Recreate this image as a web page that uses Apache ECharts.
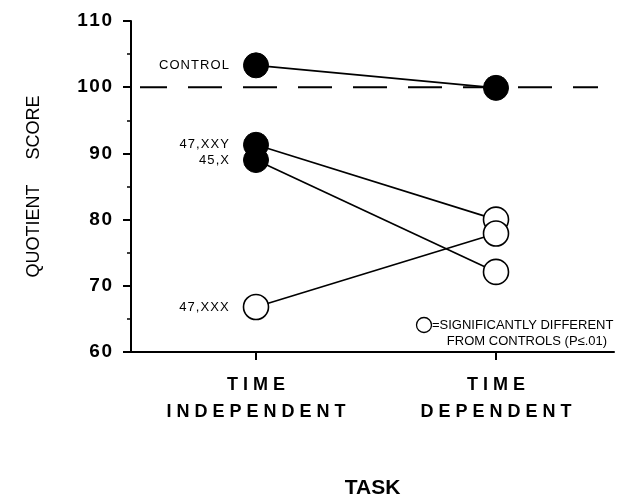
<!DOCTYPE html>
<html><head><meta charset="utf-8">
<script src="https://cdn.jsdelivr.net/npm/echarts@6/dist/echarts.min.js"></script>
<style>html,body{margin:0;padding:0;background:#fff}#c{width:633px;height:504px}</style>
</head><body><div id="c"></div>
<script>
// ---- data ----
const taskLabels = ['TIME\nINDEPENDENT', 'TIME\nDEPENDENT'];
const taskPositions = [1, 2];
const groups = ['CONTROL', '47,XXY', '45,X', '47,XXX'];
const timeIndependent = [103.3, 91.3, 89.0, 66.8];
const timeDependent = [99.9, 80.0, 72.1, 77.9];
const significantIndependent = [false, false, false, true];
const significantDependent = [false, true, true, true];
const referenceValue = 100;
const yMin = 60, yMax = 110, yStep = 10;
const xTitle = 'TASK';
const yTitle = 'QUOTIENT     SCORE';
const noteLines = ['=SIGNIFICANTLY DIFFERENT', 'FROM CONTROLS (P\u2264.01)'];

// ---- helpers ----
const FONT = '"Liberation Sans", Arial, Helvetica, sans-serif';
function spaced(s, sep) { return s.split('\n').map(l => l.split('').join(sep)).join('\n'); }
function markerStyle(sig) {
  return sig ? { color: '#fff', borderColor: '#000', borderWidth: 1.6 }
             : { color: '#000', borderColor: '#000', borderWidth: 1 };
}

const xMin = 1 - 125 / 240, xMax = 2 + 118 / 240;

const series = groups.map((g, i) => ({
  type: 'line',
  name: g,
  symbol: 'circle',
  symbolSize: 25,
  z: 3,
  lineStyle: { color: '#000', width: 1.7 },
  data: [
    { value: [taskPositions[0], timeIndependent[i]], itemStyle: markerStyle(significantIndependent[i]),
      label: { show: true, position: 'left', distance: 14, formatter: spaced(g, '\u200A'),
               color: '#000', fontFamily: FONT, fontSize: 13 } },
    { value: [taskPositions[1], timeDependent[i]], itemStyle: markerStyle(significantDependent[i]) }
  ]
}));

series.unshift({
  type: 'line',
  symbol: 'none',
  silent: true,
  z: 1,
  lineStyle: { color: '#000', width: 2, type: [34, 21], dashOffset: 7 },
  data: [[xMin + 9 / 240, referenceValue], [xMin + 467 / 240, referenceValue]]
});

const chart = echarts.init(document.getElementById('c'), null, { renderer: 'canvas' });
chart.setOption({
  animation: false,
  backgroundColor: '#fff',
  grid: { left: 131, right: 19, top: 21, bottom: 147, containLabel: false },
  xAxis: {
    type: 'value', min: xMin, max: xMax,
    splitLine: { show: false },
    axisLine: { lineStyle: { color: '#000', width: 2 } },
    axisTick: { show: true, customValues: taskPositions, length: 8, lineStyle: { color: '#000', width: 2 } },
    axisLabel: {
      customValues: taskPositions,
      formatter: v => spaced(taskLabels[taskPositions.indexOf(v)] || '', ' '),
      color: '#000', fontFamily: FONT, fontWeight: 'bold', fontSize: 18, lineHeight: 27, margin: 20
    },
    name: xTitle, nameLocation: 'middle', nameGap: 126,
    nameTextStyle: { color: '#000', fontFamily: FONT, fontWeight: 'bold', fontSize: 21 }
  },
  yAxis: {
    type: 'value', min: yMin, max: yMax, interval: yStep,
    splitLine: { show: false },
    axisLine: { show: true, lineStyle: { color: '#000', width: 2 } },
    axisTick: { show: true, length: 8, lineStyle: { color: '#000', width: 2 } },
    minorTick: { show: true, splitNumber: 2, length: 4, lineStyle: { color: '#000', width: 1.5 } },
    axisLabel: { color: '#000', fontFamily: FONT, fontWeight: 'bold', fontSize: 19, margin: 19,
                 formatter: v => spaced(String(v), '\u200A') },
    name: yTitle, nameLocation: 'middle', nameRotate: 90, nameGap: 88,
    nameTextStyle: { color: '#000', fontFamily: FONT, fontSize: 18, padding: [0, 0, 0, 0] }
  },
  graphic: [
    { type: 'circle', shape: { cx: 424, cy: 325, r: 7.5 }, style: { fill: '#fff', stroke: '#000', lineWidth: 1.3 } },
    { type: 'text', x: 432, y: 325, style: { text: noteLines[0], fill: '#000', font: '13px ' + FONT, textAlign: 'left', textVerticalAlign: 'middle' } },
    { type: 'text', x: 527, y: 341, style: { text: noteLines[1], fill: '#000', font: '13px ' + FONT, textAlign: 'center', textVerticalAlign: 'middle' } }
  ],
  series
});
</script></body></html>
